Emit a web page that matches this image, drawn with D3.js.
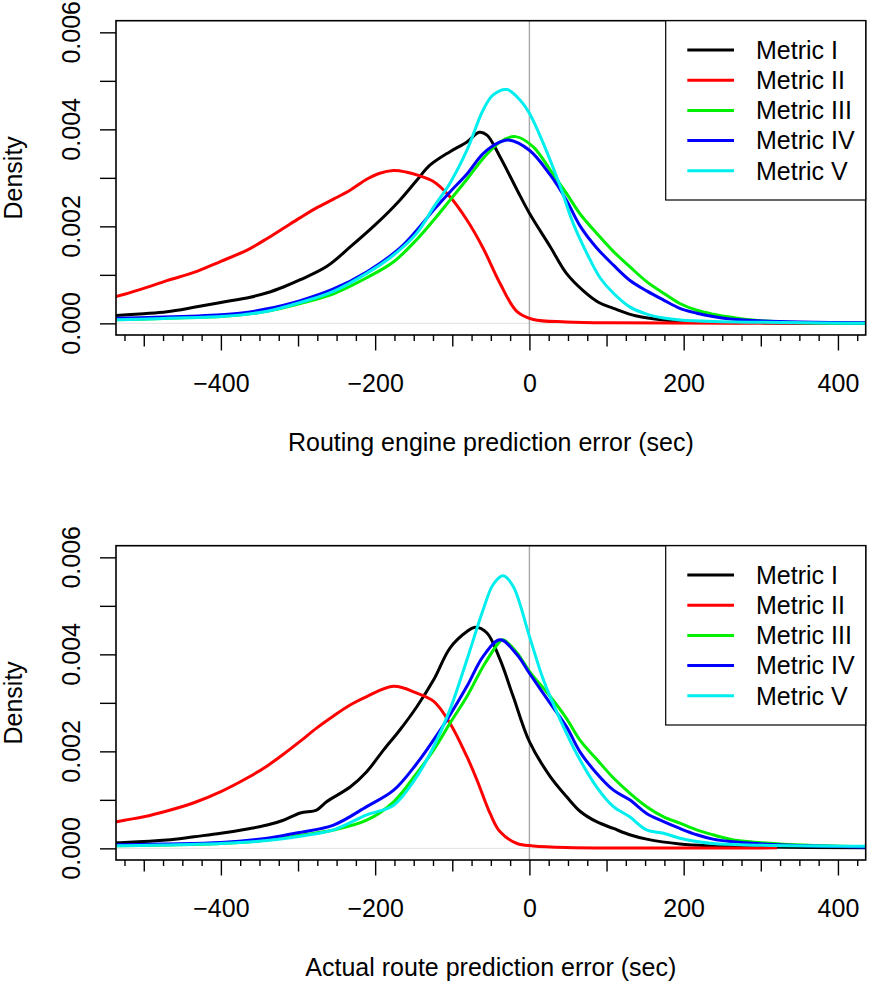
<!DOCTYPE html>
<html>
<head>
<meta charset="utf-8">
<script src="https://cdn.jsdelivr.net/npm/d3@7"></script>
<style>
  body { margin: 0; background: #fff; }
  svg { display: block; font-family: "Liberation Sans", Arial, Helvetica, sans-serif; }
</style>
</head>
<body>
<script>
// series names + colours (same for both panels)
var metricNames = ['Metric I', 'Metric II', 'Metric III', 'Metric IV', 'Metric V'];
var metricColors = ['#000000', '#ff0000', '#00ee00', '#0000ff', '#00eeee'];

var xLabels = [-400, -200, 0, 200, 400];
var yLabels = [0, 0.002, 0.004, 0.006];
var axisTitles = ['Routing engine prediction error (sec)', 'Actual route prediction error (sec)'];

// density curves, [error (sec), density]
// top panel: routing engine prediction error
var topMetricI = [[-550,0.00015],[-500,0.0002],[-470,0.00024],[-435,0.00033],[-400,0.00043],[-362,0.00054],[-340,0.00063],[-319,0.00075],[-297,0.0009],[-263,0.00117],[-232,0.00158],[-198,0.00206],[-168,0.00254],[-146,0.00295],[-129,0.00326],[-103,0.00354],[-81,0.00374],[-65,0.00394],[-55,0.00388],[-38,0.00343],[-16,0.00275],[0,0.00227],[27,0.00158],[48,0.00103],[70,0.00067],[90,0.00043],[109,0.00031],[139,0.00015],[174,0.00007],[220,0.00003],[300,0.00001],[450,0]];
var topMetricII = [[-550,0.0005],[-525,0.0006],[-500,0.00072],[-470,0.00088],[-435,0.00105],[-400,0.00128],[-366,0.00151],[-340,0.00175],[-319,0.00196],[-297,0.00218],[-276,0.00238],[-254,0.00256],[-232,0.00275],[-211,0.00297],[-195,0.00309],[-176,0.00315],[-160,0.00312],[-146,0.00306],[-124,0.00292],[-103,0.00261],[-81,0.00213],[-60,0.00155],[-38,0.00082],[-16,0.00024],[5,0.00008],[48,0.00003],[100,0.00001],[450,0.00001]];
var topMetricIII = [[-550,0.00007],[-475,0.0001],[-400,0.00014],[-370,0.00018],[-340,0.00025],[-297,0.00041],[-254,0.00061],[-211,0.00094],[-176,0.00127],[-146,0.00173],[-124,0.00213],[-103,0.00254],[-81,0.00297],[-60,0.0034],[-38,0.00374],[-18,0.00385],[5,0.00364],[27,0.00316],[48,0.00268],[66,0.00225],[87,0.00186],[109,0.00148],[130,0.00117],[152,0.00086],[174,0.00062],[195,0.00041],[217,0.00027],[238,0.00019],[260,0.00013],[282,0.00008],[325,0.00003],[450,0]];
var topMetricIV = [[-550,0.0001],[-475,0.00013],[-400,0.00018],[-370,0.00022],[-340,0.0003],[-297,0.00047],[-254,0.00071],[-211,0.00106],[-168,0.00155],[-146,0.00192],[-124,0.00234],[-103,0.00271],[-81,0.00308],[-60,0.0035],[-38,0.00374],[-27,0.00378],[0,0.00357],[27,0.00306],[48,0.00254],[66,0.002],[87,0.00156],[109,0.0012],[130,0.00089],[152,0.00067],[174,0.00048],[195,0.00031],[217,0.00021],[238,0.00014],[260,0.00009],[303,0.00005],[450,0.00001]];
var topMetricV = [[-550,0.00007],[-475,0.0001],[-400,0.00014],[-370,0.00018],[-340,0.00025],[-297,0.00043],[-254,0.00066],[-211,0.00103],[-176,0.00141],[-146,0.00186],[-124,0.0024],[-103,0.00289],[-81,0.00357],[-60,0.0044],[-47,0.00471],[-29,0.00482],[-12,0.0046],[0,0.00433],[18,0.00371],[40,0.00282],[57,0.00205],[79,0.0013],[92,0.00093],[109,0.00062],[130,0.00034],[152,0.00019],[174,0.00011],[195,0.00007],[238,0.00004],[450,0]];

// bottom panel: actual route prediction error
var botMetricI = [[-550,0.00011],[-525,0.00012],[-470,0.00017],[-435,0.00024],[-400,0.00031],[-362,0.00041],[-340,0.00048],[-319,0.00058],[-297,0.00073],[-276,0.00079],[-263,0.00096],[-232,0.00127],[-211,0.00158],[-189,0.00203],[-168,0.00244],[-146,0.00292],[-124,0.00348],[-103,0.00413],[-81,0.00447],[-70,0.00456],[-55,0.00444],[-38,0.00389],[-21,0.00313],[0,0.0022],[27,0.00148],[48,0.00107],[66,0.00076],[87,0.00055],[109,0.00041],[130,0.00028],[152,0.00019],[195,0.00009],[238,0.00005],[282,0.00003],[450,0.00001]];
var botMetricII = [[-550,0.0005],[-525,0.00058],[-500,0.00065],[-470,0.00077],[-435,0.00094],[-400,0.00117],[-366,0.00145],[-340,0.0017],[-319,0.00194],[-297,0.00221],[-276,0.00248],[-254,0.00273],[-232,0.00296],[-211,0.00313],[-176,0.00334],[-146,0.0032],[-124,0.00303],[-103,0.00258],[-81,0.00189],[-68,0.00141],[-51,0.00072],[-38,0.00034],[-16,0.0001],[5,0.00005],[48,0.00002],[321,0.00001]];
var botMetricIII = [[-550,0.00005],[-475,0.00007],[-400,0.0001],[-340,0.00017],[-297,0.00027],[-254,0.00038],[-211,0.00058],[-176,0.00096],[-146,0.00155],[-124,0.00203],[-103,0.00258],[-81,0.00313],[-60,0.00375],[-38,0.00427],[-34,0.0043],[-16,0.00403],[0,0.00365],[27,0.00313],[48,0.00268],[66,0.00222],[87,0.00184],[109,0.00145],[130,0.00114],[152,0.00086],[174,0.00065],[195,0.00052],[217,0.00038],[238,0.00028],[260,0.00019],[282,0.00014],[325,0.00009],[368,0.00006],[450,0.00003]];
var botMetricIV = [[-550,0.00007],[-475,0.00009],[-400,0.00012],[-340,0.00021],[-297,0.00033],[-254,0.00048],[-211,0.00086],[-176,0.0012],[-146,0.00175],[-124,0.00224],[-103,0.00275],[-81,0.00334],[-60,0.00396],[-38,0.0043],[-16,0.00399],[0,0.00361],[27,0.00299],[48,0.00251],[66,0.00198],[87,0.00155],[109,0.0012],[130,0.001],[152,0.00072],[174,0.00055],[195,0.00041],[217,0.00028],[238,0.00019],[260,0.00014],[303,0.00009],[368,0.00005],[450,0.00002]];
var botMetricV = [[-550,0.00005],[-475,0.00007],[-400,0.0001],[-340,0.00016],[-297,0.00025],[-254,0.00038],[-211,0.00069],[-176,0.00089],[-146,0.00148],[-124,0.0021],[-103,0.00286],[-81,0.00389],[-60,0.00492],[-47,0.00544],[-34,0.00562],[-21,0.0054],[0,0.00437],[18,0.00348],[40,0.00265],[62,0.00193],[87,0.00127],[109,0.00086],[130,0.00065],[152,0.00038],[174,0.00031],[195,0.00021],[217,0.00014],[238,0.0001],[282,0.00007],[450,0.00004]];

var panelSeries = [
    [topMetricI, topMetricII, topMetricIII, topMetricIV, topMetricV],
    [botMetricI, botMetricII, botMetricIII, botMetricIV, botMetricV]
];

var W = 869, H = 984;
var left = 116, right = 865.7;
var fontSize = 25;

var svg = d3.select('body').append('svg')
    .attr('width', W)
    .attr('height', H);

var x = d3.scaleLinear().domain([-536, 436]).range([left, right]);

// tick sets: every 25, then longer at odd hundreds, longest at labelled ones
var smallTicks = d3.range(-525, 436, 25).filter(function (v) { return v % 100 != 0; });
var midTicks = [-500, -300, -100, 100, 300];

panelSeries.forEach(function (series, p) {
    var off = p * 525;
    var top = 20.7 + off, bottom = 335 + off;
    var y = d3.scaleLinear().domain([-0.00024, 0.00624]).range([bottom, top]);

    var g = svg.append('g');

    svg.append('clipPath').attr('id', 'clip' + p)
        .append('rect')
        .attr('x', left).attr('y', top)
        .attr('width', right - left).attr('height', bottom - top);

    var plot = g.append('g').attr('clip-path', 'url(#clip' + p + ')');

    // reference lines at zero
    plot.append('line')
        .attr('x1', left).attr('x2', right)
        .attr('y1', y(0)).attr('y2', y(0))
        .attr('stroke', '#e2e2e2').attr('stroke-width', 1);
    plot.append('line')
        .attr('x1', x(0)).attr('x2', x(0))
        .attr('y1', top).attr('y2', bottom)
        .attr('stroke', '#a8a8a8').attr('stroke-width', 1.4);

    var line = d3.line()
        .x(function (d) { return x(d[0]); })
        .y(function (d) { return y(d[1]); })
        .curve(d3.curveCatmullRom.alpha(0.5));

    plot.selectAll('path.density')
        .data(series)
        .enter()
        .append('path')
        .attr('class', 'density')
        .attr('d', line)
        .attr('fill', 'none')
        .attr('stroke', function (d, i) { return metricColors[i]; })
        .attr('stroke-width', 3)
        .attr('stroke-linejoin', 'round');

    // box
    g.append('rect')
        .attr('x', left).attr('y', top)
        .attr('width', right - left).attr('height', bottom - top)
        .attr('fill', 'none').attr('stroke', '#000').attr('stroke-width', 1.6);

    // x axis, three tick lengths
    var xs = g.append('g').attr('transform', 'translate(0,' + bottom + ')')
        .call(d3.axisBottom(x).tickValues(smallTicks).tickSize(6).tickFormat(''));
    var xm = g.append('g').attr('transform', 'translate(0,' + bottom + ')')
        .call(d3.axisBottom(x).tickValues(midTicks).tickSize(11.5).tickFormat(''));
    var xb = g.append('g').attr('transform', 'translate(0,' + bottom + ')')
        .call(d3.axisBottom(x).tickValues(xLabels).tickSize(15.5));
    [xs, xm, xb].forEach(function (a) {
        a.select('.domain').remove();
        a.selectAll('.tick line').attr('stroke', '#000').attr('stroke-width', 1.4);
    });
    xb.selectAll('.tick text')
        .attr('y', 56.5).attr('dy', null)
        .attr('fill', '#000')
        .style('font-size', fontSize + 'px')
        .style('font-family', 'inherit');

    // y axis
    var ya = g.append('g').attr('transform', 'translate(' + left + ',0)')
        .call(d3.axisLeft(y).tickValues(d3.range(0, 0.0065, 0.001)).tickSize(16).tickFormat(''));
    ya.select('.domain').remove();
    ya.selectAll('.tick line').attr('stroke', '#000').attr('stroke-width', 1.4);

    g.selectAll('text.ylab')
        .data(yLabels)
        .enter()
        .append('text')
        .attr('class', 'ylab')
        .attr('transform', function (d) { return 'translate(80,' + y(d) + ') rotate(-90)'; })
        .attr('text-anchor', 'middle')
        .style('font-size', fontSize + 'px')
        .text(d3.format('.3f'));

    // axis titles
    g.append('text')
        .attr('x', (left + right) / 2).attr('y', 451 + off)
        .attr('text-anchor', 'middle')
        .style('font-size', fontSize + 'px')
        .text(axisTitles[p]);
    g.append('text')
        .attr('transform', 'translate(22,' + ((top + bottom) / 2) + ') rotate(-90)')
        .attr('text-anchor', 'middle')
        .style('font-size', fontSize + 'px')
        .text('Density');

    // legend
    var lg = g.append('g');
    lg.append('rect')
        .attr('x', 665.7).attr('y', top)
        .attr('width', right - 665.7).attr('height', 200 - 20.7)
        .attr('fill', '#fff').attr('stroke', '#000').attr('stroke-width', 1.2);
    var rows = lg.selectAll('g.row')
        .data(metricNames)
        .enter()
        .append('g')
        .attr('class', 'row')
        .attr('transform', function (d, i) { return 'translate(0,' + (50 + off + i * 30.2) + ')'; });
    rows.append('line')
        .attr('x1', 687.3).attr('x2', 734)
        .attr('stroke', function (d, i) { return metricColors[i]; })
        .attr('stroke-width', 3);
    rows.append('text')
        .attr('x', 756).attr('y', 8.8)
        .style('font-size', fontSize + 'px')
        .text(function (d) { return d; });
});
</script>
</body>
</html>
